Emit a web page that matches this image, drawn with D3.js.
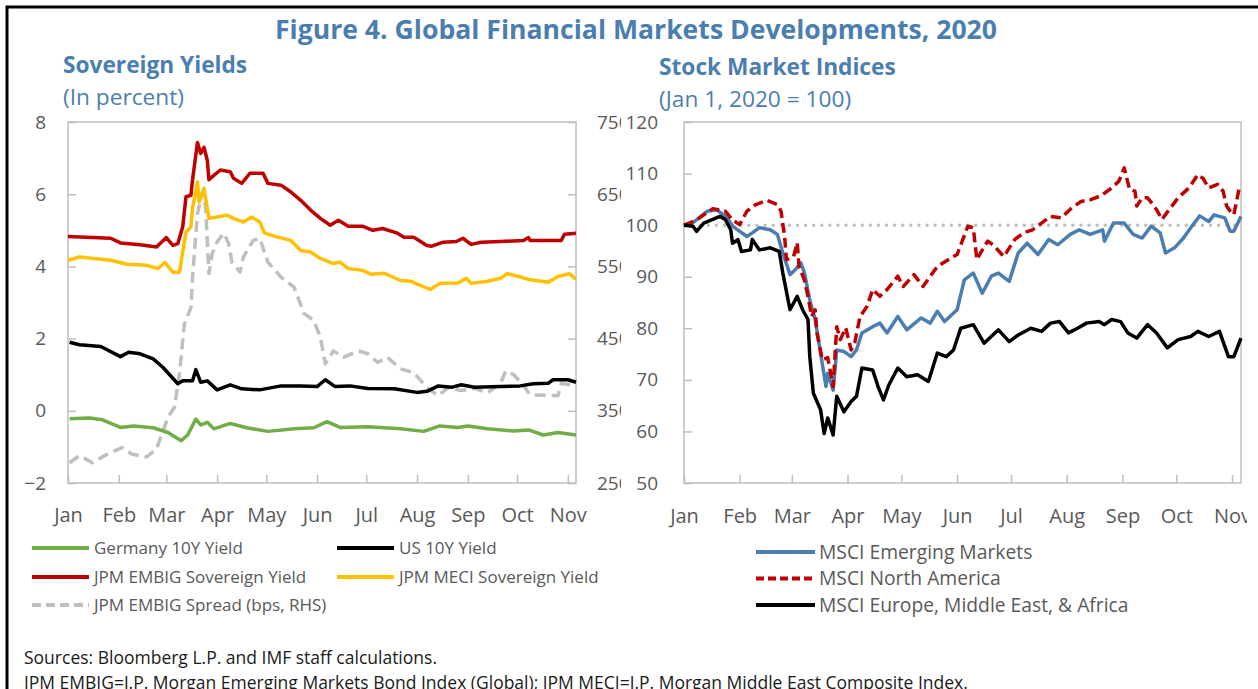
<!DOCTYPE html>
<html>
<head>
<meta charset="utf-8">
<script src="https://cdn.jsdelivr.net/npm/d3@7"></script>
<style>
  body { margin: 0; background: #fff; }
  svg { display: block; font-family: "Open Sans", "Noto Sans", sans-serif; }
  .tick text { fill: #595959; font-family: "Open Sans", "Noto Sans", sans-serif; }
</style>
</head>
<body>
<svg width="1258" height="689"></svg>
<script>
// ---- data: left panel (percent), spread on RHS (bps)
var germany10y = [
  ["01-02",-0.22],["01-14",-0.20],["01-22",-0.25],["02-02",-0.46],["02-10",-0.42],["02-22",-0.47],
  ["03-02",-0.60],["03-10",-0.83],["03-14",-0.67],["03-19",-0.23],["03-22",-0.39],["03-26",-0.32],
  ["03-30",-0.50],["04-09",-0.35],["04-19",-0.47],["05-02",-0.57],["05-18",-0.50],["05-30",-0.47],
  ["06-07",-0.30],["06-15",-0.46],["07-02",-0.44],["07-22",-0.50],["08-05",-0.57],["08-15",-0.42],
  ["08-26",-0.46],["09-01",-0.42],["09-13",-0.50],["09-29",-0.56],["10-08",-0.53],["10-17",-0.67],
  ["10-26",-0.60],["11-06",-0.67]
];
var us10y = [
  ["01-02",1.90],["01-08",1.83],["01-21",1.78],["02-02",1.50],["02-07",1.62],["02-14",1.58],
  ["02-22",1.44],["02-28",1.20],["03-08",0.75],["03-11",0.83],["03-17",0.83],["03-19",1.14],
  ["03-22",0.79],["03-26",0.83],["04-01",0.58],["04-09",0.72],["04-16",0.61],["04-27",0.58],
  ["05-10",0.69],["05-22",0.69],["06-01",0.67],["06-06",0.86],["06-12",0.67],["06-21",0.69],
  ["07-02",0.62],["07-18",0.61],["08-01",0.51],["08-07",0.54],["08-14",0.69],["08-22",0.65],
  ["08-28",0.72],["09-05",0.65],["09-21",0.67],["10-03",0.69],["10-11",0.75],["10-20",0.76],
  ["10-23",0.86],["11-01",0.86],["11-06",0.79]
];
var embigYield = [
  ["01-01",4.83],["01-27",4.78],["02-02",4.65],["02-14",4.60],["02-24",4.54],["03-01",4.80],
  ["03-05",4.58],["03-08",4.63],["03-11",5.10],["03-13",5.93],["03-16",5.97],["03-17",6.40],
  ["03-20",7.43],["03-22",7.13],["03-24",7.30],["03-26",6.94],["03-27",6.40],["03-30",6.52],
  ["04-03",6.67],["04-09",6.62],["04-11",6.44],["04-16",6.30],["04-21",6.58],["04-29",6.58],
  ["05-02",6.30],["05-10",6.25],["05-16",6.06],["05-22",5.83],["05-28",5.56],["06-03",5.33],
  ["06-09",5.14],["06-14",5.28],["06-20",5.11],["06-29",5.11],["07-05",5.00],["07-11",5.05],
  ["07-20",4.92],["07-24",4.81],["07-30",4.81],["08-07",4.58],["08-10",4.56],["08-17",4.67],
  ["08-25",4.69],["08-29",4.78],["09-03",4.61],["09-09",4.67],["09-21",4.69],["10-05",4.72],
  ["10-08",4.80],["10-09",4.72],["10-28",4.72],["10-30",4.89],["11-06",4.92]
];
var meciYield = [
  ["01-01",4.17],["01-08",4.26],["01-27",4.17],["02-06",4.06],["02-18",4.03],["02-25",3.94],
  ["02-29",4.11],["03-05",3.84],["03-09",3.84],["03-13",4.95],["03-16",5.09],["03-17",5.60],
  ["03-20",6.34],["03-21",5.79],["03-24",6.16],["03-26",5.60],["03-27",5.33],["04-01",5.37],
  ["04-07",5.42],["04-11",5.33],["04-17",5.23],["04-22",5.37],["04-27",5.23],["04-30",4.92],
  ["05-08",4.81],["05-16",4.72],["05-22",4.44],["05-28",4.40],["06-03",4.22],["06-11",4.08],
  ["06-15",4.12],["06-20",3.94],["06-29",3.89],["07-04",3.78],["07-12",3.81],["07-22",3.61],
  ["07-28",3.59],["08-09",3.36],["08-15",3.53],["08-26",3.54],["08-31",3.67],["09-03",3.53],
  ["09-13",3.59],["09-21",3.67],["09-25",3.80],["10-02",3.72],["10-08",3.64],["10-20",3.56],
  ["10-26",3.72],["11-02",3.80],["11-06",3.64]
];
var embigSpread = [
  ["01-02",278],["01-08",288],["01-16",278],["01-25",290],["02-03",299],["02-09",290],
  ["02-18",286],["02-24",297],["03-02",341],["03-06",355],["03-09",401],["03-12",470],
  ["03-16",493],["03-17",535],["03-20",623],["03-23",653],["03-25",632],["03-27",540],
  ["03-29",568],["04-01",584],["04-05",596],["04-08",582],["04-10",556],["04-15",542],
  ["04-17",563],["04-23",586],["04-27",589],["05-02",556],["05-10",535],["05-18",521],
  ["05-24",485],["05-30",475],["06-03",452],["06-06",415],["06-11",433],["06-17",424],
  ["06-26",433],["07-02",429],["07-08",417],["07-14",424],["07-22",408],["07-30",403],
  ["08-07",382],["08-14",371],["08-20",382],["08-28",378],["09-05",381],["09-13",375],
  ["09-21",388],["09-24",405],["09-29",400],["10-05",385],["10-09",372],["10-26",371],
  ["10-28",388],["11-06",385]
];

// ---- data: right panel (Jan 1, 2020 = 100)
var msciEM = [
  ["01-01",100.0],["01-06",100.5],["01-14",102.7],["01-19",103.0],["01-25",101.5],["01-28",99.8],
  ["02-05",97.8],["02-08",98.5],["02-12",99.5],["02-18",99.1],["02-22",98.2],["02-25",94.6],
  ["02-29",90.4],["03-03",91.4],["03-06",92.7],["03-08",90.8],["03-11",85.5],["03-14",81.7],
  ["03-17",75.2],["03-20",68.7],["03-21",71.3],["03-24",68.0],["03-26",75.8],["03-30",75.5],
  ["04-03",74.5],["04-06",75.8],["04-09",79.1],["04-15",80.3],["04-19",81.0],["04-23",79.1],
  ["04-29",82.3],["05-04",79.7],["05-12",82.0],["05-17",81.0],["05-21",83.3],["05-25",81.3],
  ["06-01",83.6],["06-05",89.4],["06-10",90.7],["06-15",86.8],["06-20",90.1],["06-24",90.7],
  ["06-30",89.1],["07-05",94.6],["07-10",96.5],["07-16",94.3],["07-22",97.2],["07-27",96.2],
  ["08-03",98.2],["08-08",99.1],["08-14",98.2],["08-21",99.1],["08-22",96.9],["08-27",100.4],
  ["09-02",100.4],["09-07",98.2],["09-12",97.5],["09-17",99.8],["09-22",98.5],["09-25",94.6],
  ["09-30",95.6],["10-05",97.5],["10-09",99.5],["10-14",101.8],["10-19",100.7],["10-22",102.0],
  ["10-28",101.4],["10-31",98.8],["11-02",98.8],["11-06",101.7]
];
var msciNA = [
  ["01-01",100.0],["01-08",101.0],["01-17",103.2],["01-24",102.7],["01-28",101.0],["02-01",100.1],
  ["02-05",102.7],["02-10",104.0],["02-16",104.8],["02-22",104.0],["02-24",102.7],["02-26",97.8],
  ["02-27",93.3],["03-02",93.9],["03-04",96.6],["03-05",92.0],["03-08",89.4],["03-10",86.2],
  ["03-12",82.3],["03-14",83.6],["03-15",79.1],["03-18",73.9],["03-21",74.3],["03-24",68.7],
  ["03-26",80.3],["03-28",77.8],["03-31",80.1],["04-03",75.8],["04-05",77.2],["04-08",82.3],
  ["04-12",84.3],["04-15",87.5],["04-19",86.2],["04-23",87.5],["04-29",90.1],["05-02",88.1],
  ["05-08",90.4],["05-13",88.1],["05-21",92.0],["05-27",93.3],["06-01",94.3],["06-07",99.8],
  ["06-10",99.5],["06-12",93.3],["06-14",94.6],["06-18",96.9],["06-21",96.2],["06-27",93.9],
  ["07-03",97.2],["07-08",98.5],["07-13",99.1],["07-18",100.4],["07-23",101.7],["07-29",101.4],
  ["08-03",103.1],["08-09",104.6],["08-14",104.9],["08-20",105.7],["08-26",107.2],["08-30",108.5],
  ["09-02",111.1],["09-05",106.9],["09-08",106.6],["09-09",103.7],["09-12",105.3],["09-15",105.3],
  ["09-18",104.0],["09-20",103.0],["09-23",101.1],["09-27",103.0],["10-02",105.3],["10-08",107.2],
  ["10-13",109.8],["10-16",109.0],["10-19",107.2],["10-24",107.9],["10-27",106.6],["10-29",103.7],
  ["10-31",102.7],["11-02",102.0],["11-05",107.2]
];
var msciEMEA = [
  ["01-01",100.0],["01-06",99.8],["01-08",98.8],["01-12",100.4],["01-17",101.1],["01-21",101.7],
  ["01-24",101.1],["01-27",99.1],["01-28",96.5],["01-31",97.2],["02-02",94.9],["02-07",95.2],
  ["02-08",97.2],["02-12",95.2],["02-18",95.6],["02-23",94.9],["02-25",90.7],["02-29",83.6],
  ["03-04",86.2],["03-07",83.6],["03-10",81.7],["03-11",74.5],["03-13",67.4],["03-17",64.2],
  ["03-19",59.6],["03-21",62.6],["03-24",59.3],["03-26",66.8],["03-30",63.8],["04-03",65.8],
  ["04-06",66.8],["04-09",72.3],["04-15",71.9],["04-18",68.7],["04-21",66.1],["04-24",69.0],
  ["04-29",72.3],["05-04",70.6],["05-10",71.0],["05-16",69.7],["05-21",75.2],["05-26",74.5],
  ["05-30",75.8],["06-03",80.0],["06-10",80.7],["06-16",77.1],["06-24",79.7],["06-30",77.4],
  ["07-05",78.7],["07-12",80.0],["07-18",79.4],["07-23",81.0],["07-28",81.3],["08-02",79.1],
  ["08-07",80.0],["08-12",81.0],["08-19",81.3],["08-22",80.7],["08-26",81.7],["08-31",81.3],
  ["09-04",79.1],["09-09",78.1],["09-15",80.7],["09-20",79.1],["09-26",76.2],["10-02",77.8],
  ["10-09",78.4],["10-13",79.4],["10-19",78.4],["10-25",79.4],["10-30",74.5],["11-02",74.5],
  ["11-06",78.1]
];

var leftTicks = [8, 6, 4, 2, 0, -2];
var spreadTicks = [750, 650, 550, 450, 350, 250];
var indexTicks = [120, 110, 100, 90, 80, 70, 60, 50];

var parseDay = d3.timeParse("%Y-%m-%d");
function prep(arr) {
  return arr.map(function(d) { return {date: parseDay("2020-" + d[0]), value: d[1]}; });
}

var svg = d3.select("svg");
var axisGray = "#bfbfbf", textGray = "#595959", titleBlue = "#4a7eb0";

// outer frame (left + top only visible)
svg.append("path")
    .attr("d", "M7,700 V7 H1258")
    .attr("fill", "none")
    .attr("stroke", "#000")
    .attr("stroke-width", 3);

svg.append("text")
    .attr("x", 636).attr("y", 39)
    .attr("text-anchor", "middle")
    .attr("fill", titleBlue)
    .style("font-size", "26.6px").style("font-weight", 700)
    .text("Figure 4. Global Financial Markets Developments, 2020");

function subtitle(x, y, txt, bold) {
  svg.append("text")
      .attr("x", x).attr("y", y)
      .attr("fill", titleBlue)
      .style("font-size", "22.7px")
      .style("font-weight", bold ? 700 : 400)
      .text(txt);
}
subtitle(63, 73, "Sovereign Yields", true);
subtitle(63, 105, "(In percent)", false);
subtitle(659, 75, "Stock Market Indices", true);
subtitle(659, 107, "(Jan 1, 2020 = 100)", false);

var start = parseDay("2020-01-01"), end = parseDay("2020-11-06");
var plotTop = 122, plotBottom = 483;

function frame(g, x0, x1) {
  g.append("rect")
      .attr("x", x0).attr("y", plotTop)
      .attr("width", x1 - x0).attr("height", plotBottom - plotTop)
      .attr("fill", "none")
      .attr("stroke", axisGray).attr("stroke-width", 1.5);
}

function styleAxis(sel, size) {
  sel.attr("font-family", null).attr("font-size", null);
  sel.select(".domain").remove();
  sel.selectAll(".tick line").attr("stroke", axisGray).attr("stroke-width", 1.5);
  sel.selectAll(".tick text").style("font-size", size).attr("fill", textGray);
}

// ================= left panel =================
var xL = d3.scaleTime().domain([start, end]).range([68, 576]);
var yL = d3.scaleLinear().domain([-2, 8]).range([plotBottom, plotTop]);
var yS = d3.scaleLinear().domain([250, 750]).range([plotBottom, plotTop]);

var gL = svg.append("g");
frame(gL, 68, 576);

gL.append("g").attr("transform", "translate(68,0)")
    .call(d3.axisLeft(yL).tickValues(leftTicks).tickSize(-8).tickPadding(22).tickFormat(d3.format("d")))
    .call(styleAxis, "19px");

// RHS labels are cut by the neighbouring panel (clip in the axis group's local coords)
svg.append("clipPath").attr("id", "rhsClip")
  .append("rect").attr("x", -20).attr("y", 100).attr("width", 65).attr("height", 400);

gL.append("g").attr("transform", "translate(576,0)")
    .attr("clip-path", "url(#rhsClip)")
    .call(d3.axisRight(yS).tickValues(spreadTicks).tickSize(-8).tickPadding(21))
    .call(styleAxis, "19px");

gL.append("g").attr("transform", "translate(0," + plotBottom + ")")
    .call(d3.axisBottom(xL).ticks(d3.timeMonth.every(1)).tickSize(-8).tickPadding(25).tickFormat(d3.timeFormat("%b")))
    .call(styleAxis, "20px");

var lineL = d3.line().x(function(d) { return xL(d.date); }).y(function(d) { return yL(d.value); });
var lineS = d3.line().x(function(d) { return xL(d.date); }).y(function(d) { return yS(d.value); });

var leftSeries = [
  {name: "JPM EMBIG Spread (bps, RHS)", data: embigSpread, color: "#bfbfbf", dash: "11,6", line: lineS},
  {name: "Germany 10Y Yield", data: germany10y, color: "#70ad47", dash: null, line: lineL},
  {name: "US 10Y Yield", data: us10y, color: "#000000", dash: null, line: lineL},
  {name: "JPM EMBIG Sovereign Yield", data: embigYield, color: "#c00000", dash: null, line: lineL},
  {name: "JPM MECI Sovereign Yield", data: meciYield, color: "#ffc000", dash: null, line: lineL}
];

leftSeries.forEach(function(s) {
  gL.append("path")
      .datum(prep(s.data))
      .attr("d", s.line)
      .attr("fill", "none")
      .attr("stroke", s.color)
      .attr("stroke-width", 3.5)
      .attr("stroke-linejoin", "round")
      .attr("stroke-dasharray", s.dash);
});

// left legend
var legL = [
  {name: "Germany 10Y Yield", color: "#70ad47", x: 32, y: 548},
  {name: "US 10Y Yield", color: "#000000", x: 337, y: 548},
  {name: "JPM EMBIG Sovereign Yield", color: "#c00000", x: 32, y: 577},
  {name: "JPM MECI Sovereign Yield", color: "#ffc000", x: 337, y: 577},
  {name: "JPM EMBIG Spread (bps, RHS)", color: "#bfbfbf", x: 32, y: 605, dash: "9,5"}
];
legL.forEach(function(d) {
  svg.append("line")
      .attr("x1", d.x).attr("x2", d.x + 57)
      .attr("y1", d.y).attr("y2", d.y)
      .attr("stroke", d.color).attr("stroke-width", 4)
      .attr("stroke-dasharray", d.dash || null);
  svg.append("text")
      .attr("x", d.x + 62).attr("y", d.y).attr("dy", "0.35em")
      .attr("fill", textGray).style("font-size", "17px")
      .text(d.name);
});

// ================= right panel =================
var xR = d3.scaleTime().domain([start, end]).range([684, 1241]);
var yR = d3.scaleLinear().domain([50, 120]).range([plotBottom, plotTop]);

var gR = svg.append("g");
frame(gR, 684, 1241);

gR.append("g").attr("transform", "translate(684,0)")
    .call(d3.axisLeft(yR).tickValues(indexTicks).tickSize(-8).tickPadding(26))
    .call(styleAxis, "19px");

// "Nov" is cut at the figure's right edge
svg.append("clipPath").attr("id", "edgeClip")
  .append("rect").attr("x", 600).attr("y", -20).attr("width", 647).attr("height", 80);

gR.append("g").attr("transform", "translate(0," + plotBottom + ")")
    .attr("clip-path", "url(#edgeClip)")
    .call(d3.axisBottom(xR).ticks(d3.timeMonth.every(1)).tickSize(-8).tickPadding(26).tickFormat(d3.timeFormat("%b")))
    .call(styleAxis, "20px");

// reference line at 100
gR.append("line")
    .attr("x1", 684).attr("x2", 1241)
    .attr("y1", yR(100)).attr("y2", yR(100))
    .attr("stroke", "#bfbfbf").attr("stroke-width", 3.5)
    .attr("stroke-linecap", "round")
    .attr("stroke-dasharray", "0.1,8");

var lineR = d3.line().x(function(d) { return xR(d.date); }).y(function(d) { return yR(d.value); });

var rightSeries = [
  {name: "MSCI Emerging Markets", data: msciEM, color: "#4a7eb0", dash: null},
  {name: "MSCI North America", data: msciNA, color: "#c00000", dash: "10,5"},
  {name: "MSCI Europe, Middle East, & Africa", data: msciEMEA, color: "#000000", dash: null}
];

rightSeries.forEach(function(s) {
  gR.append("path")
      .datum(prep(s.data))
      .attr("d", lineR)
      .attr("fill", "none")
      .attr("stroke", s.color)
      .attr("stroke-width", 3.5)
      .attr("stroke-linejoin", "round")
      .attr("stroke-dasharray", s.dash);
});

rightSeries.forEach(function(s, i) {
  var y = 552 + i * 26.5;
  svg.append("line")
      .attr("x1", 756).attr("x2", 815)
      .attr("y1", y).attr("y2", y)
      .attr("stroke", s.color).attr("stroke-width", 4)
      .attr("stroke-dasharray", s.dash ? "8,4" : null);
  svg.append("text")
      .attr("x", 819).attr("y", y).attr("dy", "0.35em")
      .attr("fill", textGray).style("font-size", "19.3px")
      .text(s.name);
});

// ================= notes =================
svg.append("text")
    .attr("x", 24).attr("y", 664)
    .attr("fill", "#1a1a1a").style("font-size", "17.5px")
    .text("Sources: Bloomberg L.P. and IMF staff calculations.");
svg.append("text")
    .attr("x", 24).attr("y", 689)
    .attr("fill", "#1a1a1a").style("font-size", "17.5px")
    .text("JPM EMBIG=J.P. Morgan Emerging Markets Bond Index (Global); JPM MECI=J.P. Morgan Middle East Composite Index.");
</script>
</body>
</html>
